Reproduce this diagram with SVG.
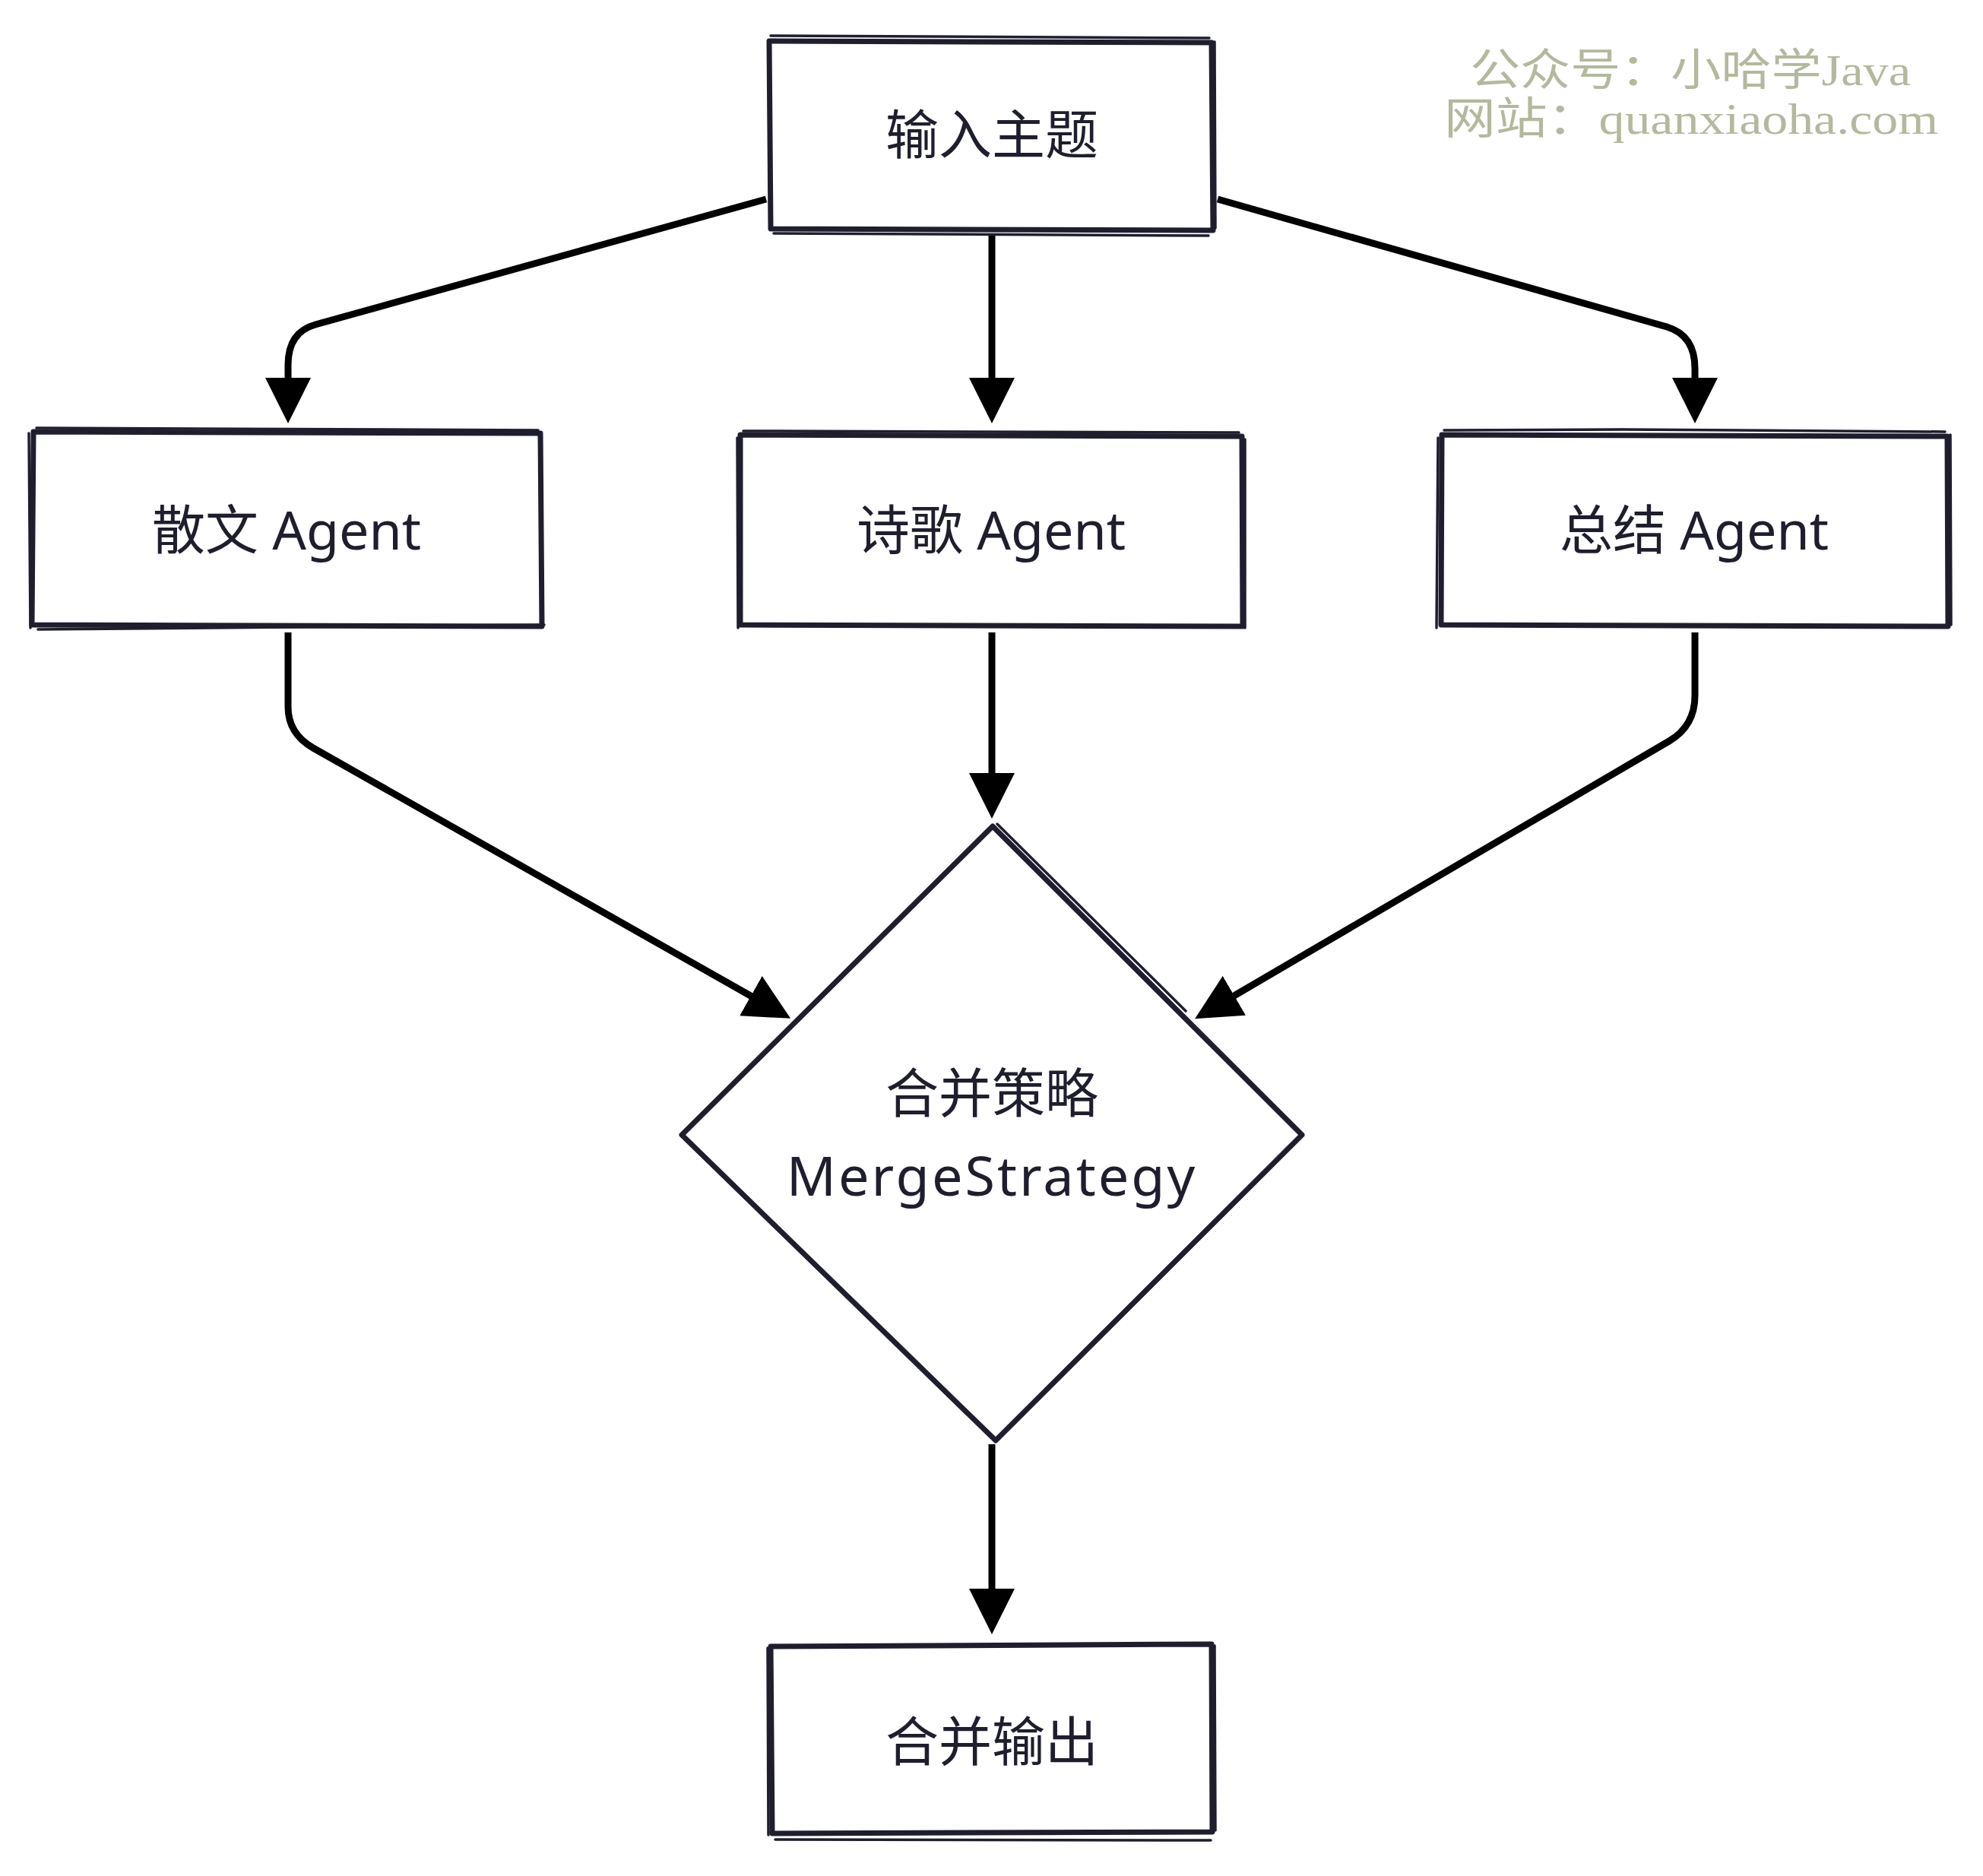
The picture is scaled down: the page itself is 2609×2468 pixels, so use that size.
<svg xmlns="http://www.w3.org/2000/svg" width="2609" height="2468" viewBox="0 0 2609 2468">
<style>
.box{fill:#ffffff;stroke:#1e1e2e;stroke-width:7;stroke-linejoin:round}
.sk{fill:none;stroke:#1e1e2e;stroke-width:3.5;stroke-linecap:round}
.edge{fill:none;stroke:#000000;stroke-width:9;stroke-linejoin:round}
.lbl{font-family:"Noto Sans","Noto Sans CJK SC",sans-serif;font-size:70px;fill:#1e1e2e;text-anchor:middle;dominant-baseline:central}
.wm{font-family:"Liberation Serif","Noto Sans CJK SC",serif;font-size:58px;fill:#b3b99c}
</style>
<defs>
<marker id="arr" viewBox="0 0 60 60" markerWidth="60" markerHeight="60" refX="30" refY="30" orient="auto" markerUnits="userSpaceOnUse">
<path d="M0,0 L60,30 L0,60 Z" fill="#000000"/>
</marker>
</defs>
<rect width="2609" height="2468" fill="#ffffff"/>
<g id="connectors">
<path class="edge" marker-end="url(#arr)" d="M1008,262 L415,427 Q379,437 379,480 L379,527"/>
<path class="edge" marker-end="url(#arr)" d="M1305,308 L1305,527"/>
<path class="edge" marker-end="url(#arr)" d="M1602,262 L2193,430 Q2230,441 2230,485 L2230,527"/>
<path class="edge" marker-end="url(#arr)" d="M379,832 L379,930 Q379,965 412,984 L1014,1325"/>
<path class="edge" marker-end="url(#arr)" d="M1305,832 L1305,1047"/>
<path class="edge" marker-end="url(#arr)" d="M2230,832 L2230,915 Q2230,955 2196,975 L1598,1325"/>
<path class="edge" marker-end="url(#arr)" d="M1305,1900 L1305,2120"/>
</g>
<g id="node-input">
<path class="box" d="M1012,54 L1594,56 L1596,303 L1014,301 Z"/>
<path class="sk" d="M1014,47 L1591,50 M1598,55 L1599,300 M1590,310 L1018,307"/>
<text class="lbl" x="1305" y="176">输入主题</text>
</g>
<g id="node-prose">
<path class="box" d="M44,568 L711,570 L713,824 L42,822 Z"/>
<path class="sk" d="M48,563 L708,566 M38,570 L40,826 M716,822 L50,828"/>
<text class="lbl" x="377" y="696">散文 Agent</text>
</g>
<g id="node-poem">
<path class="box" d="M974,572 L1634,574 L1635,824 L974,822 Z"/>
<path class="sk" d="M978,567 L1630,569 M970,576 L971,826 M1638,578 L1638,826"/>
<text class="lbl" x="1304" y="696">诗歌 Agent</text>
</g>
<g id="node-summary">
<path class="box" d="M1897,572 L2562,574 L2563,824 L1896,822 Z"/>
<path class="sk" d="M1900,566 L2135,565 L2559,568 M1892,576 L1890,826 M2566,572 L2567,822"/>
<text class="lbl" x="2229" y="696">总结 Agent</text>
</g>
<g id="node-merge">
<path class="box" d="M1306,1087 L1713,1493 L1310,1895 L897,1493 Z"/>
<path class="sk" d="M1312,1084 L1560,1330"/>
<text class="lbl" x="1305" y="1437">合并策略</text>
<text class="lbl" x="1305" y="1545" style="font-size:72px;letter-spacing:3px">MergeStrategy</text>
</g>
<g id="node-output">
<path class="box" d="M1014,2166 L1594,2163 L1595,2410 L1016,2412 Z"/>
<path class="sk" d="M1010,2168 L1011,2414 M1020,2420 L1593,2421 M1598,2165 L1599,2408"/>
<text class="lbl" x="1305" y="2290">合并输出</text>
</g>
<g id="watermark">
<text class="wm" x="1934" y="112" textLength="580" lengthAdjust="spacingAndGlyphs">公众号：小哈学Java</text>
<text class="wm" x="1900" y="176" textLength="650" lengthAdjust="spacingAndGlyphs">网站：quanxiaoha.com</text>
</g>
</svg>
